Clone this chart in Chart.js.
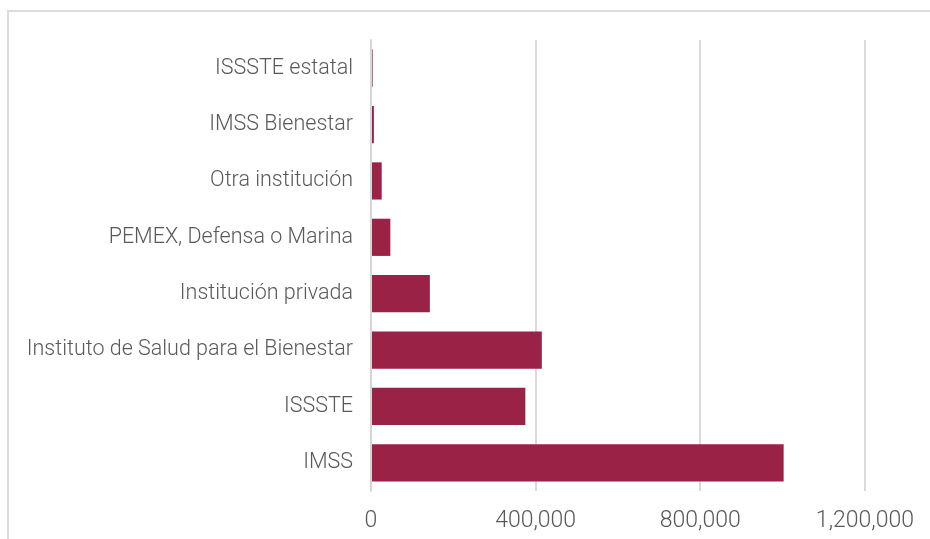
<!DOCTYPE html>
<html>
<head>
<meta charset="utf-8">
<script src="https://cdn.jsdelivr.net/npm/chart.js@4"></script>
<style>
    body { margin: 0; background: #fff; overflow: hidden; }
    #marco { position: absolute; left: 7px; top: 10px; width: 1000px; height: 600px; border-left: 2px solid #dcdcdc; border-top: 2px solid #dcdcdc; }
    #wrap { position: absolute; left: 0; top: 0; width: 930px; height: 539px; }
</style>
</head>
<body>
<div id="marco"></div>
<div id="wrap"><canvas id="grafica"></canvas></div>
<script>
// Derechohabiencia por institución
const instituciones = [
    'ISSSTE estatal',
    'IMSS Bienestar',
    'Otra institución',
    'PEMEX, Defensa o Marina',
    'Institución privada',
    'Instituto de Salud para el Bienestar',
    'ISSSTE',
    'IMSS'
];
const personas = [4000, 7000, 26000, 47000, 143000, 415000, 375000, 1002500];
const ticksX = [0, 400000, 800000, 1200000];

const guinda = '#9b2247';
const textoGris = '#595959';

const ctx = document.getElementById('grafica').getContext('2d');
new Chart(ctx, {
    type: 'bar',
    data: {
        labels: instituciones,
        datasets: [{
            data: personas,
            backgroundColor: guinda,
            barPercentage: 0.66,
            categoryPercentage: 1
        }]
    },
    options: {
        indexAxis: 'y',
        responsive: true,
        maintainAspectRatio: false,
        animation: false,
        layout: { padding: { top: 40, right: 65, bottom: 0, left: 0 } },
        plugins: { legend: { display: false }, tooltip: { enabled: false } },
        scales: {
            x: {
                min: 0,
                max: 1200000,
                afterBuildTicks: (scale) => { scale.ticks = ticksX.map(v => ({ value: v })); },
                afterFit: (scale) => { scale.height = 48; },
                grid: { color: '#dadada', lineWidth: 2, drawTicks: false },
                border: { display: false },
                ticks: {
                    padding: 16,
                    color: textoGris,
                    font: { family: 'Roboto', weight: 300, size: 23 },
                    callback: (v) => v.toLocaleString('en-US')
                }
            },
            y: {
                afterFit: (scale) => { scale.width = 371; },
                grid: { color: 'rgba(0,0,0,0)', drawTicks: false },
                border: { display: true, color: '#d4d4d4', width: 1.5 },
                ticks: {
                    padding: 18,
                    color: textoGris,
                    font: { family: 'Roboto', weight: 300, size: 21.5 }
                }
            }
        }
    }
});
</script>
</body>
</html>
